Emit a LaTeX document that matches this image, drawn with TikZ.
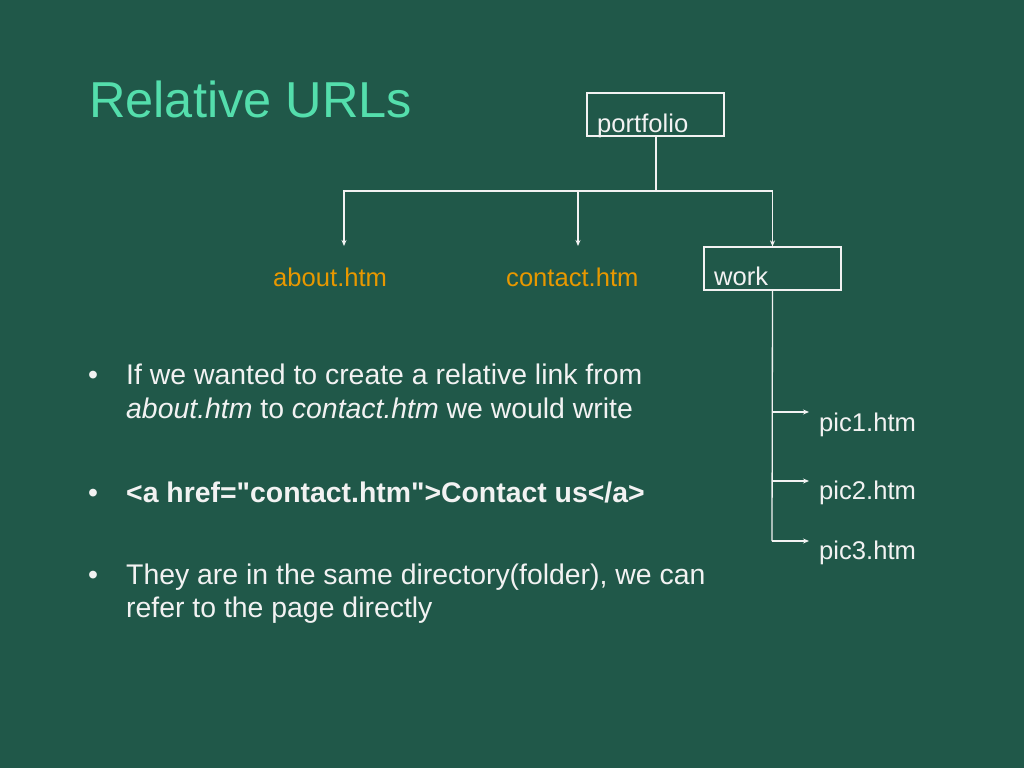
\documentclass[tikz,border=0pt]{standalone}
\usepackage{fontspec}
\setmainfont{Liberation Sans}
\newfontfamily\codefont{Liberation Sans}
\usetikzlibrary{arrows.meta}
\definecolor{bg}{RGB}{32,88,73}
\definecolor{titlec}{RGB}{84,222,172}
\definecolor{orangec}{RGB}{232,152,0}
\definecolor{fg}{RGB}{242,242,242}
\begin{document}
\begin{tikzpicture}[x=1pt,y=-1pt,
 box/.style={draw=fg,line width=1.2pt,inner sep=0pt},
 lbl/.style={anchor=base west,inner sep=0pt,font=\fontsize{25.6}{30}\selectfont},
 conn/.style={draw=fg,line width=1.3pt},
 arr/.style={conn,-{Stealth[length=6pt,width=5pt]}},
 body/.style={anchor=base west,inner sep=0pt,text=fg,font=\fontsize{28.4}{34}\selectfont}]
\fill[bg] (0,0) rectangle (1024,768);
\useasboundingbox (0,0) rectangle (1024,768);

% title
\node[anchor=base west,inner sep=0pt,text=titlec,font=\fontsize{50.5}{60}\selectfont] (title) at (89,117) {Relative URLs};

% tree boxes
\node[box,minimum width=137pt,minimum height=43pt] (portfolio) at (655.5,114.5) {};
\node[lbl,text=fg] (portfoliot) at (597,132) {portfolio};
\node[box,minimum width=137pt,minimum height=43pt] (work) at (772.5,268.5) {};
\node[lbl,text=fg] (workt) at (714,285) {work};

\node[lbl,text=orangec] (about) at (273,286) {about.htm};
\node[lbl,text=orangec] (contact) at (506,286) {contact.htm};
\node[lbl,text=fg] (pic1) at (819,431) {pic1.htm};
\node[lbl,text=fg] (pic2) at (819,499) {pic2.htm};
\node[lbl,text=fg] (pic3) at (819,559) {pic3.htm};

% connector points
\coordinate (j) at (656,191);
\coordinate (aboutin) at (344,246);
\coordinate (contactin) at (578,246);
\coordinate (w1) at (772,412);
\coordinate (w2) at (772,481);
\coordinate (w3) at (772,541);
\coordinate (p1in) at (809,412);
\coordinate (p2in) at (809,481);
\coordinate (p3in) at (809,541);

\draw[conn] (portfolio.south -| j) -- (j);
\draw[arr] (j) -| (aboutin);
\draw[arr] (j) -| (contactin);
\draw[arr] (j) -| (work.north);
\draw[conn] (work.south) -- (w3);
\draw[arr] (w1) -- (p1in);
\draw[arr] (w2) -- (p2in);
\draw[arr] (w3) -- (p3in);

% bullets
\node[body] (d1) at (88,384) {•};
\node[body] (b1) at (126,384) {If we wanted to create a relative link from};
\node[body] (b1b) at (126,418) {\textit{about.htm} to \textit{contact.htm} we would write};
\node[body] (d2) at (88,502) {•};
\node[body] (b2) at (126,502) {\codefont\bfseries <a href="contact.htm">Contact us</a>};
\node[body] (d3) at (88,584) {•};
\node[body] (b3) at (126,584) {They are in the same directory(folder), we can};
\node[body] (b3b) at (126,617) {refer to the page directly};
\end{tikzpicture}
\end{document}
